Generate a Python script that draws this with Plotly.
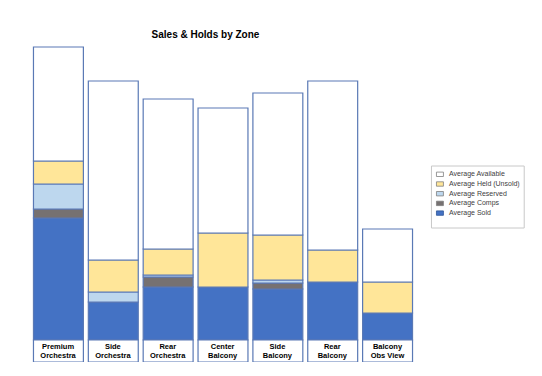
import plotly.graph_objects as go

zones = ["Premium<br>Orchestra", "Side<br>Orchestra", "Rear<br>Orchestra", "Center<br>Balcony",
         "Side<br>Balcony", "Rear<br>Balcony", "Balcony<br>Obs View"]
avg_sold = [122, 38, 53, 53, 51, 58, 27]
avg_comps = [9, 0, 10, 0, 6, 0, 0]
avg_reserved = [25, 10, 2, 0, 3, 0, 0]
avg_held = [23, 32, 26, 54, 45, 32, 31]
avg_available = [114, 179, 150, 125, 142, 169, 53]
label_depth = [-22] * len(zones)

series = [
    ("Average Sold", avg_sold, "#4472C4"),
    ("Average Comps", avg_comps, "#767171"),
    ("Average Reserved", avg_reserved, "#BDD7EE"),
    ("Average Held (Unsold)", avg_held, "#FFE699"),
    ("Average Available", avg_available, "#FFFFFF"),
]

OFF = 8  # page body margin
W, H = 534, 368
ML, MT = 30.5 - OFF, 40 - OFF
MR = W - (415.5 - OFF)
MB = H - (362 - OFF)
PW, PH = W - ML - MR, H - MT - MB


def px_x(p):
    return (p - OFF - ML) / PW


def px_y(p):
    return (H - MB - (p - OFF)) / PH


edge = "#5a79b5"
fig = go.Figure()
for name, vals, col in series:
    fig.add_trace(go.Bar(x=zones, y=vals, name=name,
                         marker=dict(color=col, line=dict(color=edge, width=1.2)),
                         hoverinfo="skip", showlegend=False))

fig.add_trace(go.Bar(x=zones, y=label_depth, showlegend=False,
                     marker=dict(color="#FFFFFF", line=dict(color=edge, width=1.2)),
                     text=zones, texttemplate="<b>%{text}</b>", textposition="inside",
                     insidetextanchor="middle", constraintext="none", textangle=0,
                     textfont=dict(family="Liberation Sans, Arial", size=7.5, color="#000000"),
                     hoverinfo="skip"))

# custom legend (top item first)
shapes = [dict(type="rect", xref="paper", yref="paper",
               x0=px_x(432), x1=px_x(525), y0=px_y(228), y1=px_y(166),
               line=dict(color="#c8c8c8", width=1), fillcolor="white")]
annotations = []
legend_rows = list(reversed(series))
for i, (name, vals, col) in enumerate(legend_rows):
    cy = 174.3 + i * 9.7
    shapes.append(dict(type="rect", xref="paper", yref="paper",
                       x0=px_x(437), x1=px_x(444), y0=px_y(cy + 2.2), y1=px_y(cy - 2.2),
                       line=dict(color="#7f7f7f" if col != "#4472C4" else "#2f5597", width=0.8),
                       fillcolor=col))
    annotations.append(dict(text=name, xref="paper", yref="paper", x=px_x(447.5), y=px_y(cy),
                            xanchor="left", yanchor="middle", showarrow=False,
                            font=dict(family="Liberation Sans, Arial", size=7, color="#404040")))

fig.update_layout(
    width=W, height=H,
    barmode="relative", bargap=0.09,
    plot_bgcolor="white", paper_bgcolor="white",
    margin=dict(l=ML, r=MR, t=MT, b=MB),
    title=dict(text="<b>Sales &amp; Holds by Zone</b>", x=(205.5 - OFF) / W, xanchor="center",
               y=1 - (34.5 - OFF) / H, yanchor="middle",
               font=dict(family="Liberation Sans, Arial", size=10, color="#000000")),
    xaxis=dict(visible=False, range=[-0.5, 6.5]),
    yaxis=dict(visible=False, range=[-22, 300]),
    showlegend=False,
    shapes=shapes,
    annotations=annotations,
)
fig.write_html("out.html")
